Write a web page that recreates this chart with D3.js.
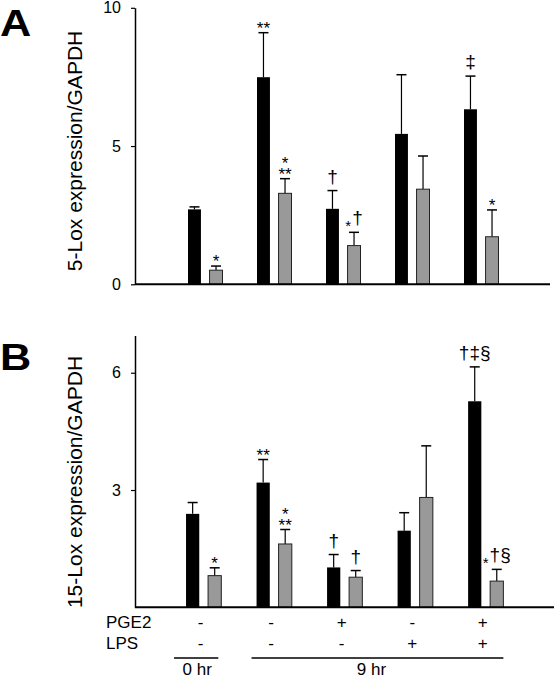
<!DOCTYPE html>
<html><head><meta charset="utf-8">
<script src="https://cdn.jsdelivr.net/npm/d3@7"></script>
<style>html,body{margin:0;padding:0;background:#fff}svg{display:block}text{font-family:"Liberation Sans",Arial,Helvetica,sans-serif}</style>
</head><body>
<svg id="c" width="556" height="679"></svg>
<script>
const groups = ["g1","g2","g3","g4","g5"];
const series = ["black","gray"];
const pge2 = ["-","-","+","-","+"];
const lps  = ["-","-","-","+","+"];
const timeLabels = ["0 hr","9 hr"];

const lox5Black    = [2.71, 7.49, 2.73, 5.44, 6.33];
const lox5BlackErr = [0.09, 1.61, 0.66, 2.14, 1.20];
const lox5Gray     = [0.51, 3.29, 1.40, 3.44, 1.72];
const lox5GrayErr  = [0.15, 0.53, 0.48, 1.20, 0.97];
const lox5BlackSig = ["", "**", "†", "", "‡"];
const lox5GraySig  = ["*", "*|**", "*†", "", "*"];
const lox5Ticks = [0, 5, 10];

const lox15Black    = [2.39, 3.19, 1.02, 1.96, 5.27];
const lox15BlackErr = [0.29, 0.59, 0.33, 0.46, 0.88];
const lox15Gray     = [0.81, 1.62, 0.77, 2.81, 0.67];
const lox15GrayErr  = [0.20, 0.37, 0.17, 1.32, 0.30];
const lox15BlackSig = ["", "**", "†", "", "†‡§"];
const lox15GraySig  = ["*", "*|**", "†", "", "*†§"];
const lox15Ticks = [3, 6];

const svg = d3.select("#c");
const colors = {black:"#000000", gray:"#999999"};

function panel(cfg){
  const g = svg.append("g");
  const x = d3.scaleBand().domain(groups).range(cfg.xr).paddingInner(0.5).paddingOuter(0.25);
  const xs = d3.scaleBand().domain(series).range([0, x.bandwidth()]).paddingInner(0.4);
  const y = d3.scaleLinear().domain(cfg.yd).range(cfg.yr);
  const data = [];
  groups.forEach((grp,i)=>{
    data.push({grp, s:"black", v:cfg.black[i], e:cfg.blackErr[i], sig:cfg.blackSig[i]});
    data.push({grp, s:"gray", v:cfg.gray[i], e:cfg.grayErr[i], sig:cfg.graySig[i]});
  });
  const cx = d => x(d.grp) + xs(d.s) + xs.bandwidth()/2;
  g.selectAll("line.err").data(data).join("line")
    .attr("x1", cx).attr("x2", cx)
    .attr("y1", d=>y(d.v)).attr("y2", d=>y(d.v+d.e))
    .attr("stroke","#000").attr("stroke-width",1.2);
  g.selectAll("line.cap").data(data).join("line")
    .attr("x1", d=>cx(d)-5).attr("x2", d=>cx(d)+5)
    .attr("y1", d=>y(d.v+d.e)).attr("y2", d=>y(d.v+d.e))
    .attr("stroke","#000").attr("stroke-width",1.5);
  g.selectAll("rect.bar").data(data).join("rect")
    .attr("x", d=>x(d.grp)+xs(d.s)).attr("width", xs.bandwidth())
    .attr("y", d=>y(d.v)).attr("height", d=>y(0)-y(d.v))
    .attr("fill", d=>colors[d.s]).attr("stroke", "#222").attr("stroke-width", d=>d.s==="gray"?1:0);
  // significance marks: one text element per bar
  data.filter(d=>d.sig).forEach(d=>{
    const top = y(d.v+d.e);
    const lines = d.sig.split("|");
    const n = lines.length;
    const t = g.append("text").attr("text-anchor","middle");
    lines.forEach((ln,li)=>{
      const hasDagger = /[†‡§]/.test(ln);
      const lineBase = top - (hasDagger ? 8 : -1) - (n-1-li)*10.7;
      let curY = null;
      [...ln].forEach((ch,ci)=>{
        const sp = t.append("tspan").text(ch)
          .attr("font-size", ch==="*" ? (hasDagger?15:17) : 19);
        const yy = lineBase + (ch==="*" && hasDagger ? 7 : 0);
        if (ci===0) { sp.attr("x", cx(d)).attr("y", yy); }
        else { sp.attr("dy", yy - curY); if (ln[ci-1]==="*" && hasDagger) sp.attr("dx", 1); }
        curY = yy;
      });
    });
  });
  // y axis
  const ax = d3.axisLeft(y).tickValues(cfg.ticks).tickSize(4).tickSizeOuter(0).tickPadding(10).tickFormat(d3.format("d"));
  const axg = g.append("g").attr("transform", `translate(${cfg.ax},0)`).call(ax);
  axg.select(".domain").attr("stroke-width",1.5);
  axg.selectAll(".tick line").attr("stroke-width",1.2);
  axg.selectAll(".tick text").attr("font-size",16).attr("fill","#000").style("font-family",'"Liberation Sans",Arial,sans-serif');
  g.append("line").attr("x1", cfg.ax).attr("x2", cfg.bx).attr("y1", y(0)).attr("y2", y(0))
    .attr("stroke","#000").attr("stroke-width",2);
  g.append("text").attr("transform", `translate(82,${cfg.labY}) rotate(-90)`)
    .attr("text-anchor","middle").attr("font-size",21).text(cfg.label);
  g.append("text").attr("transform", `translate(0,${cfg.letY}) scale(1.17,1)`)
    .attr("font-size",37).attr("font-weight","bold").text(cfg.letter);
  return {x, xs, y};
}

panel({xr:[170.75,515.75], yd:[0,10], yr:[284.3,7.8], ax:135, bx:550,
  black:lox5Black, blackErr:lox5BlackErr, gray:lox5Gray, grayErr:lox5GrayErr,
  blackSig:lox5BlackSig, graySig:lox5GraySig, ticks:lox5Ticks,
  label:"5-Lox expression/GAPDH", labY:151, letter:"A", letY:36});

const pB = panel({xr:[168.4,521], yd:[0,6.95], yr:[607.3,335.6], ax:135, bx:554,
  black:lox15Black, blackErr:lox15BlackErr, gray:lox15Gray, grayErr:lox15GrayErr,
  blackSig:lox15BlackSig, graySig:lox15GraySig, ticks:lox15Ticks,
  label:"15-Lox expression/GAPDH", labY:482, letter:"B", letY:370});

// treatment rows
const xb = pB.x, bw = xb.bandwidth();
const rows = svg.append("g").attr("font-size",17);
rows.append("text").attr("x",106).attr("y",628).text("PGE2");
rows.append("text").attr("x",106).attr("y",649).text("LPS");
rows.selectAll("text.p").data(groups).join("text").attr("class","p")
  .attr("x", d=>xb(d)+bw/2 - 3).attr("y",628).attr("text-anchor","middle").text((d,i)=>pge2[i]);
rows.selectAll("text.l").data(groups).join("text").attr("class","l")
  .attr("x", d=>xb(d)+bw/2 - 3).attr("y",649).attr("text-anchor","middle").text((d,i)=>lps[i]);
// time brackets
const t0x1 = xb(groups[0]) - 12, t0x2 = xb(groups[0]) + bw - 3;
const t9x1 = xb(groups[1]) - 5, t9x2 = xb(groups[4]) + bw;
svg.append("line").attr("x1",t0x1).attr("x2",t0x2).attr("y1",658).attr("y2",658).attr("stroke","#000").attr("stroke-width",1.5);
svg.append("line").attr("x1",t9x1).attr("x2",t9x2).attr("y1",658).attr("y2",658).attr("stroke","#000").attr("stroke-width",1.5);
svg.append("text").attr("x",(t0x1+t0x2)/2+1).attr("y",675).attr("text-anchor","middle").attr("font-size",17).text(timeLabels[0]);
svg.append("text").attr("x",(t9x1+t9x2)/2-6).attr("y",675).attr("text-anchor","middle").attr("font-size",17).text(timeLabels[1]);
</script>
</body></html>
